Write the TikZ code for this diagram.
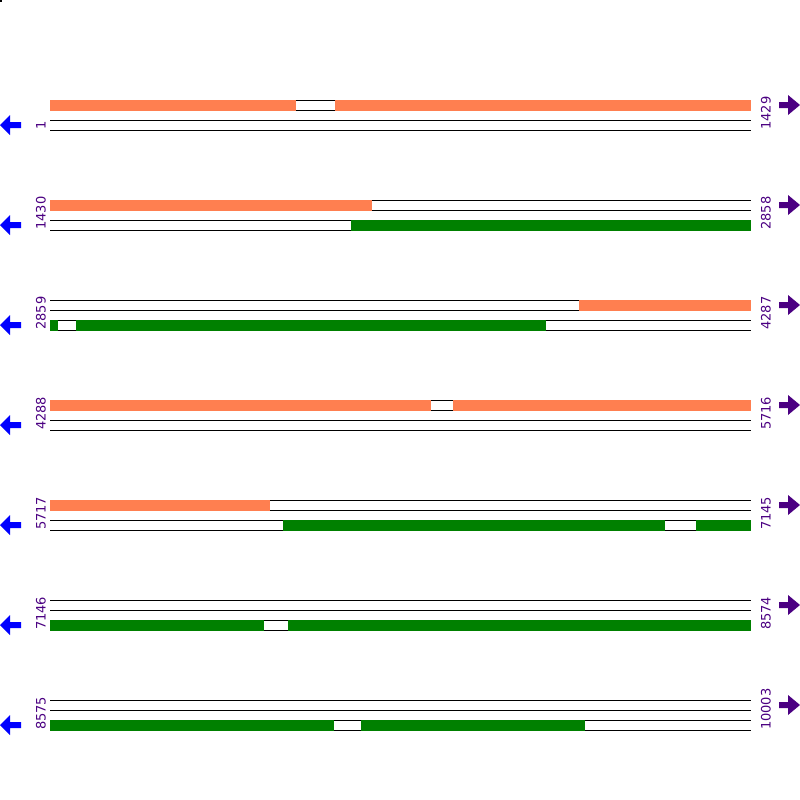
\documentclass[tikz,border=0pt]{standalone}
\usepackage{fontspec}
\setmainfont{DejaVu Sans}
\definecolor{orf}{HTML}{FF7F50}
\definecolor{gorf}{HTML}{008000}
\definecolor{lab}{HTML}{4B0082}
\definecolor{larr}{HTML}{0000FF}
\begin{document}
\begin{tikzpicture}[x=1pt,y=-1pt,
  trackline/.style={black,line width=1pt},
  lablbl/.style={text=lab,rotate=90,anchor=west,inner sep=0pt,font=\fontsize{13}{13}\selectfont},
  leftarr/.style={fill=larr,draw=none},
  rightarr/.style={fill=lab,draw=none}]
\fill[white] (0,0) rectangle (800,800);
\useasboundingbox (0,0) rectangle (800,800);
\fill[black] (0,0) rectangle (2,2);
% rows
\foreach \r/\a/\b [count=\i] in {100/1/1429,200/1430/2858,300/2859/4287,400/4288/5716,500/5717/7145,600/7146/8574,700/8575/10003}{
  \foreach \d in {0,10,20,30}{
    \draw[trackline] (50,\r+\d) -- (751,\r+\d);
  }
  \node[lablbl] (l\i) at (41,\r+30) {\a};
  \node[lablbl] (r\i) at (766,\r+30) {\b};
  \fill[leftarr] (0,\r+25) -- (10,\r+15) -- (10,\r+22) -- (21,\r+22) -- (21,\r+28) -- (10,\r+28) -- (10,\r+35) -- cycle;
  \fill[rightarr] (800,\r+5) -- (788,\r-5) -- (788,\r+2) -- (779,\r+2) -- (779,\r+8) -- (788,\r+8) -- (788,\r+15) -- cycle;
}
% top-track (orange) segments: row y, x1, x2
\foreach \r/\xa/\xb in {100/50/296,100/335/751,200/50/372,300/579/751,400/50/431,400/453/751,500/50/270}{
  \fill[orf] (\xa,\r-0.5) rectangle (\xb,\r+10.5);
}
% bottom-track (green) segments
\foreach \r/\xa/\xb in {200/351/751,300/50/58,300/76/546,500/283/665,500/696/751,600/50/264,600/288/751,700/50/334,700/361/585}{
  \fill[gorf] (\xa,\r+19.5) rectangle (\xb,\r+30.5);
}
\end{tikzpicture}
\end{document}
